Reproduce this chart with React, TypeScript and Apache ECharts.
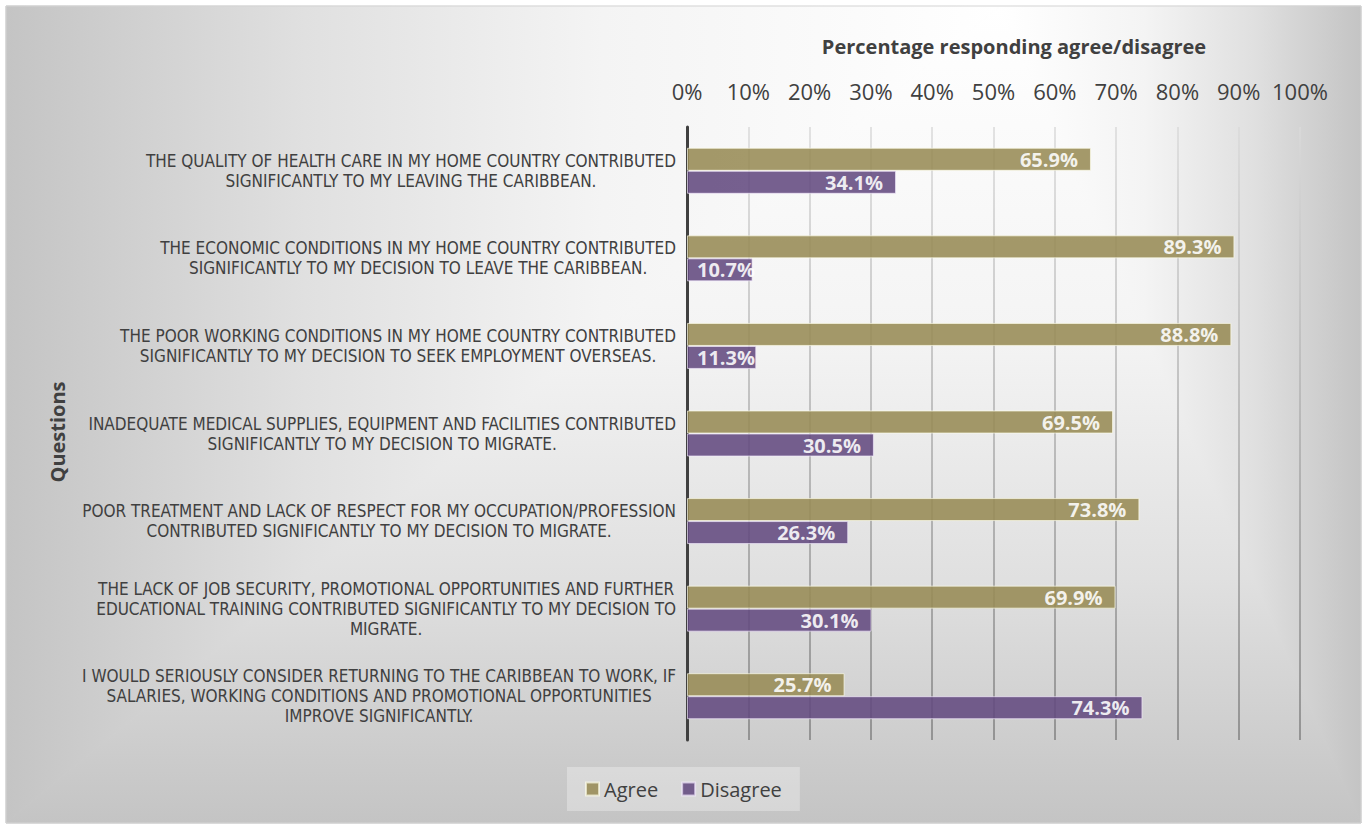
import { useEffect, useRef } from 'react';
import * as echarts from 'echarts';

const categories = [
  'THE QUALITY OF HEALTH CARE IN MY HOME COUNTRY CONTRIBUTED\nSIGNIFICANTLY TO MY LEAVING THE CARIBBEAN.',
  'THE ECONOMIC CONDITIONS IN MY HOME COUNTRY CONTRIBUTED\nSIGNIFICANTLY TO MY DECISION TO LEAVE THE CARIBBEAN.',
  'THE POOR WORKING CONDITIONS IN MY HOME COUNTRY CONTRIBUTED\nSIGNIFICANTLY TO MY DECISION TO SEEK EMPLOYMENT OVERSEAS.',
  'INADEQUATE MEDICAL SUPPLIES, EQUIPMENT AND FACILITIES CONTRIBUTED\nSIGNIFICANTLY TO MY DECISION TO MIGRATE.',
  'POOR TREATMENT AND LACK OF RESPECT FOR MY OCCUPATION/PROFESSION\nCONTRIBUTED SIGNIFICANTLY TO MY DECISION TO MIGRATE.',
  'THE LACK OF JOB SECURITY, PROMOTIONAL OPPORTUNITIES AND FURTHER\nEDUCATIONAL TRAINING CONTRIBUTED SIGNIFICANTLY TO MY DECISION TO\nMIGRATE.',
  'I WOULD SERIOUSLY CONSIDER RETURNING TO THE CARIBBEAN TO WORK, IF\nSALARIES, WORKING CONDITIONS AND PROMOTIONAL OPPORTUNITIES\nIMPROVE SIGNIFICANTLY.',
];
const agree = [65.9, 89.3, 88.8, 69.5, 73.8, 69.9, 25.7];
const disagree = [34.1, 10.7, 11.3, 30.5, 26.3, 30.1, 74.3];
const seriesNames = ['Agree', 'Disagree'];
const titleText = 'Percentage responding agree/disagree';
const yAxisTitle = 'Questions';

const bgStops = [
  { offset: 0, color: '#ffffff' },
  { offset: 0.4, color: '#f4f4f4' },
  { offset: 0.7, color: '#e0e0e0' },
  { offset: 1, color: '#c4c4c4' },
];

export default function App() {
  const ref = useRef<HTMLDivElement>(null);
  useEffect(() => {
    const chart = echarts.init(ref.current!, null, { renderer: 'svg' });
    const L = 6, T = 6, R = 1361, B = 823, cx = 1000, cy = 6;
    const grad = (x1: number, y1: number, x2: number, y2: number) =>
      new echarts.graphic.LinearGradient(x1, y1, x2, y2, bgStops, true);
    const gLeft = grad(cx, 0, L, 0);
    const gRight = grad(cx, 0, R, 0);
    const gBottom = grad(0, cy, 0, B);
    const gridGrad = new echarts.graphic.LinearGradient(0, 127, 0, 740, [
      { offset: 0, color: '#dadada' },
      { offset: 1, color: '#808080' },
    ], true);

    const withLabel = (v: number) =>
      v < 15 ? { value: v, label: { position: 'insideLeft', distance: 10 } } : v;

    const labelCfg = {
      show: true,
      position: 'insideRight',
      distance: 13,
      formatter: (p: any) => Number(p.value).toFixed(1) + '%',
      color: '#ffffff',
      fontFamily: 'Open Sans',
      fontWeight: 'bold',
      fontSize: 20,
    };

    const option: any = {
      animation: false,
      grid: { left: 687, right: 63, top: 127, bottom: 85, containLabel: false },
      graphic: [
        { type: 'rect', z: -100, shape: { x: L, y: T, width: R - L, height: B - T }, style: { fill: '#e0e0e0' } },
        { type: 'polygon', z: -99, shape: { points: [[cx, cy], [L, T], [L, B]] }, style: { fill: gLeft, stroke: gLeft, lineWidth: 1 } },
        { type: 'polygon', z: -99, shape: { points: [[cx, cy], [R, T], [R, B]] }, style: { fill: gRight, stroke: gRight, lineWidth: 1 } },
        { type: 'polygon', z: -99, shape: { points: [[cx, cy], [L, B], [R, B]] }, style: { fill: gBottom, stroke: gBottom, lineWidth: 1 } },
        { type: 'rect', z: -98, shape: { x: L, y: T, width: R - L, height: B - T }, style: { fill: 'none', stroke: '#d4d4d4', lineWidth: 1 } },
        {
          type: 'text', z: 10, x: 1014, y: 46,
          style: { text: titleText, align: 'center', verticalAlign: 'middle', font: 'bold 20px "Open Sans"', fill: '#404040' },
        },
        {
          type: 'text', z: 10, x: 57, y: 432, rotation: Math.PI / 2,
          style: { text: yAxisTitle, align: 'center', verticalAlign: 'middle', font: 'bold 20px "Open Sans"', fill: '#404040' },
        },
      ],
      legend: {
        data: seriesNames,
        left: 567,
        top: 767,
        padding: [12, 18],
        itemGap: 23,
        itemWidth: 13,
        itemHeight: 13,
        icon: 'rect',
        backgroundColor: 'rgba(255,255,255,0.3)',
        textStyle: { fontFamily: 'Open Sans', fontSize: 20, color: '#404040' },
      },
      xAxis: {
        type: 'value',
        position: 'top',
        min: 0,
        max: 100,
        interval: 10,
        axisLine: { show: false },
        axisTick: { show: false },
        axisLabel: { formatter: '{value}%', fontFamily: 'Open Sans', fontSize: 22, color: '#404040', margin: 25 },
        splitLine: { show: true, lineStyle: { color: gridGrad, width: 1.5 } },
      },
      yAxis: {
        type: 'category',
        inverse: true,
        data: categories,
        axisLine: { show: true, lineStyle: { color: '#404040', width: 3 } },
        axisTick: { show: false },
        splitLine: { show: false },
        axisLabel: {
          margin: 11,
          formatter: (v: string) => v.split('\n').map((s) => `{c|${s}}`).join('\n'),
          rich: {
            c: {
              align: 'center',
              fontFamily: '"DejaVu Sans Condensed", sans-serif',
              fontSize: 17,
              lineHeight: 20,
              color: '#404040',
            },
          },
        },
      },
      series: [
        {
          name: seriesNames[0],
          type: 'bar',
          data: agree.map(withLabel),
          barWidth: 23,
          barGap: '0%',
          itemStyle: { color: '#978b55', opacity: 0.88, borderColor: 'rgba(255,255,235,0.75)', borderWidth: 1 },
          label: labelCfg,
        },
        {
          name: seriesNames[1],
          type: 'bar',
          data: disagree.map(withLabel),
          barWidth: 23,
          barGap: '0%',
          itemStyle: { color: '#634a80', opacity: 0.88, borderColor: 'rgba(245,235,255,0.75)', borderWidth: 1 },
          label: labelCfg,
        },
      ],
    };
    chart.setOption(option);
    return () => chart.dispose();
  }, []);
  return <div ref={ref} style={{ position: 'absolute', left: 0, top: 0, width: 1363, height: 825 }} />;
}
